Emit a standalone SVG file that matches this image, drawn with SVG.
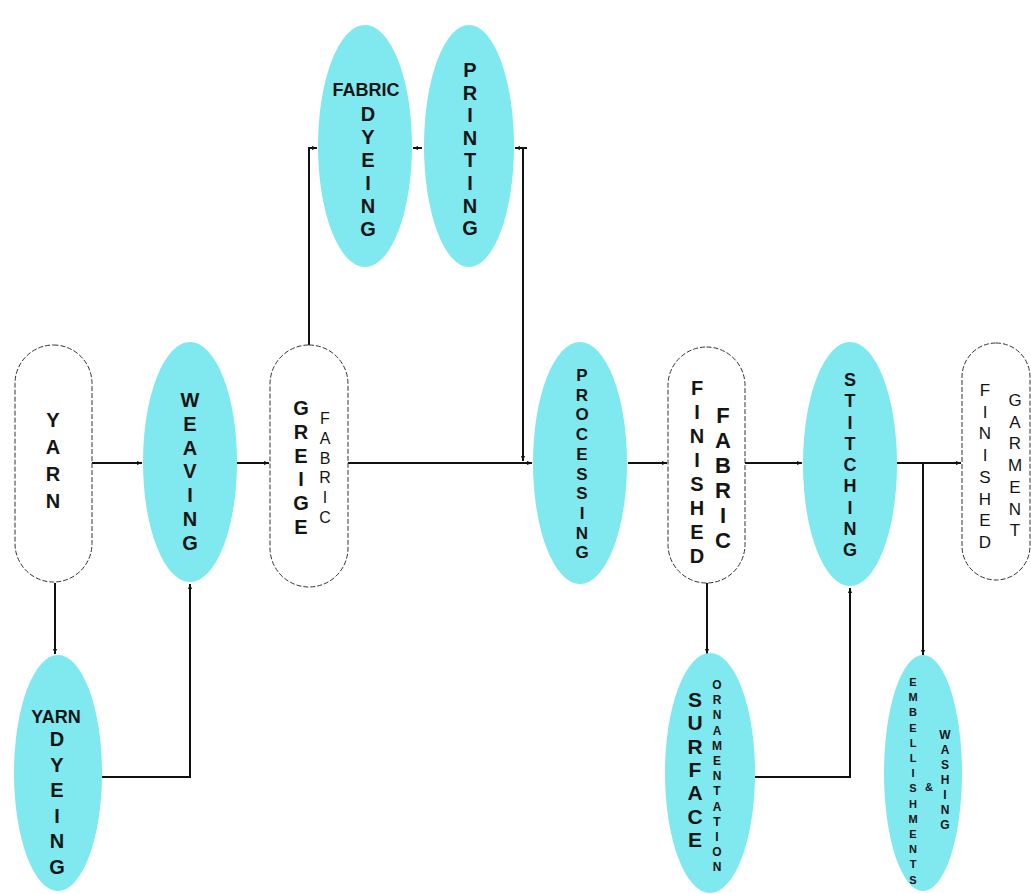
<svg xmlns="http://www.w3.org/2000/svg" width="1031" height="894" viewBox="0 0 1031 894">
  <defs>
    <marker id="arr" viewBox="0 0 10 10" refX="10" refY="5" markerWidth="5" markerHeight="5" orient="auto" markerUnits="userSpaceOnUse">
      <path d="M0,1 L10,5 L0,9 z" fill="#111"/>
    </marker>
  </defs>
  <style>
    .step { fill: #80e8ef; stroke: none; }
    .state { fill: #ffffff; stroke: #333; stroke-width: 1; stroke-dasharray: 5 2; }
    .t { font-family: "Liberation Sans", Arial, sans-serif; fill: #151515; text-anchor: middle; font-weight: bold; }
    .reg { font-weight: normal; }
    .link { fill: none; stroke: #111; stroke-width: 2; }
  </style>
  <rect width="1031" height="894" fill="#ffffff"/>

  <!-- flow lines -->
  <g id="connectors">
    <path class="link" d="M92,463 H142" marker-end="url(#arr)"/>
    <path class="link" d="M237,463 H269" marker-end="url(#arr)"/>
    <path class="link" d="M348,463 H532" marker-end="url(#arr)"/>
    <path class="link" d="M309,345 V148 H317" marker-end="url(#arr)"/>
    <path class="link" d="M422,148 H413" marker-end="url(#arr)" stroke-width="1.5"/>
    <path class="link" d="M527,148 H515" marker-end="url(#arr)"/>
    <path class="link" d="M523,148 V461" marker-end="url(#arr)"/>
    <path class="link" d="M628,463 H667" marker-end="url(#arr)"/>
    <path class="link" d="M745,463 H802" marker-end="url(#arr)"/>
    <path class="link" d="M897,463 H961" marker-end="url(#arr)"/>
    <path class="link" d="M923,463 V655" marker-end="url(#arr)"/>
    <path class="link" d="M55,583 V654" marker-end="url(#arr)"/>
    <path class="link" d="M102,777 H190 V584" marker-end="url(#arr)"/>
    <path class="link" d="M707,583 V654" marker-end="url(#arr)"/>
    <path class="link" d="M755,777 H850 V588" marker-end="url(#arr)"/>
  </g>

  <g id="yarn">
    <rect class="state" x="15" y="345" width="77" height="237" rx="38.5"/>
    <text class="t" font-size="20"><tspan x="53" y="427">Y</tspan><tspan x="53" dy="27">A</tspan><tspan x="53" dy="27">R</tspan><tspan x="53" dy="27">N</tspan></text>
  </g>

  <g id="weaving">
    <ellipse class="step" cx="190" cy="462" rx="47" ry="120"/>
    <text class="t" font-size="20"><tspan x="190" y="407">W</tspan><tspan x="190" dy="23.8">E</tspan><tspan x="190" dy="23.8">A</tspan><tspan x="190" dy="23.8">V</tspan><tspan x="190" dy="23.8">I</tspan><tspan x="190" dy="23.8">N</tspan><tspan x="190" dy="23.8">G</tspan></text>
  </g>

  <g id="greige-fabric">
    <rect class="state" x="270" y="345" width="78" height="242" rx="39"/>
    <text class="t" font-size="20"><tspan x="301" y="415">G</tspan><tspan x="301" dy="23.8">R</tspan><tspan x="301" dy="23.8">E</tspan><tspan x="301" dy="23.8">I</tspan><tspan x="301" dy="23.8">G</tspan><tspan x="301" dy="23.8">E</tspan></text>
    <text class="t reg" font-size="16"><tspan x="325" y="424">F</tspan><tspan x="325" dy="19.8">A</tspan><tspan x="325" dy="19.8">B</tspan><tspan x="325" dy="19.8">R</tspan><tspan x="325" dy="19.8">I</tspan><tspan x="325" dy="19.8">C</tspan></text>
  </g>

  <g id="fabric-dyeing">
    <ellipse class="step" cx="365" cy="146" rx="47" ry="121"/>
    <text class="t" font-size="18" x="366" y="96">FABRIC</text>
    <text class="t" font-size="20"><tspan x="368" y="121">D</tspan><tspan x="368" dy="23">Y</tspan><tspan x="368" dy="23">E</tspan><tspan x="368" dy="23">I</tspan><tspan x="368" dy="23">N</tspan><tspan x="368" dy="23">G</tspan></text>
  </g>

  <g id="printing">
    <ellipse class="step" cx="469" cy="146" rx="45" ry="121"/>
    <text class="t" font-size="20"><tspan x="470" y="77">P</tspan><tspan x="470" dy="22.6">R</tspan><tspan x="470" dy="22.6">I</tspan><tspan x="470" dy="22.6">N</tspan><tspan x="470" dy="22.6">T</tspan><tspan x="470" dy="22.6">I</tspan><tspan x="470" dy="22.6">N</tspan><tspan x="470" dy="22.6">G</tspan></text>
  </g>

  <g id="processing">
    <ellipse class="step" cx="580" cy="463" rx="47" ry="121"/>
    <text class="t" font-size="17"><tspan x="582" y="381">P</tspan><tspan x="582" dy="19.7">R</tspan><tspan x="582" dy="19.7">O</tspan><tspan x="582" dy="19.7">C</tspan><tspan x="582" dy="19.7">E</tspan><tspan x="582" dy="19.7">S</tspan><tspan x="582" dy="19.7">S</tspan><tspan x="582" dy="19.7">I</tspan><tspan x="582" dy="19.7">N</tspan><tspan x="582" dy="19.7">G</tspan></text>
  </g>

  <g id="finished-fabric">
    <rect class="state" x="668" y="347" width="77" height="236" rx="38.5"/>
    <text class="t" font-size="20"><tspan x="697" y="395">F</tspan><tspan x="697" dy="24">I</tspan><tspan x="697" dy="24">N</tspan><tspan x="697" dy="24">I</tspan><tspan x="697" dy="24">S</tspan><tspan x="697" dy="24">H</tspan><tspan x="697" dy="24">E</tspan><tspan x="697" dy="24">D</tspan></text>
    <text class="t" font-size="22"><tspan x="723" y="423">F</tspan><tspan x="723" dy="25">A</tspan><tspan x="723" dy="25">B</tspan><tspan x="723" dy="25">R</tspan><tspan x="723" dy="25">I</tspan><tspan x="723" dy="25">C</tspan></text>
  </g>

  <g id="stitching">
    <ellipse class="step" cx="850" cy="464" rx="47" ry="122"/>
    <text class="t" font-size="18"><tspan x="850" y="386">S</tspan><tspan x="850" dy="21.25">T</tspan><tspan x="850" dy="21.25">I</tspan><tspan x="850" dy="21.25">T</tspan><tspan x="850" dy="21.25">C</tspan><tspan x="850" dy="21.25">H</tspan><tspan x="850" dy="21.25">I</tspan><tspan x="850" dy="21.25">N</tspan><tspan x="850" dy="21.25">G</tspan></text>
  </g>

  <g id="finished-garment">
    <rect class="state" x="962" y="343" width="68" height="237" rx="34"/>
    <text class="t reg" font-size="17"><tspan x="985" y="396">F</tspan><tspan x="985" dy="21.7">I</tspan><tspan x="985" dy="21.7">N</tspan><tspan x="985" dy="21.7">I</tspan><tspan x="985" dy="21.7">S</tspan><tspan x="985" dy="21.7">H</tspan><tspan x="985" dy="21.7">E</tspan><tspan x="985" dy="21.7">D</tspan></text>
    <text class="t reg" font-size="17"><tspan x="1015" y="406">G</tspan><tspan x="1015" dy="21.7">A</tspan><tspan x="1015" dy="21.7">R</tspan><tspan x="1015" dy="21.7">M</tspan><tspan x="1015" dy="21.7">E</tspan><tspan x="1015" dy="21.7">N</tspan><tspan x="1015" dy="21.7">T</tspan></text>
  </g>

  <g id="yarn-dyeing">
    <ellipse class="step" cx="58" cy="773" rx="44" ry="118"/>
    <text class="t" font-size="18" x="56" y="723">YARN</text>
    <text class="t" font-size="20"><tspan x="57" y="746">D</tspan><tspan x="57" dy="25.6">Y</tspan><tspan x="57" dy="25.6">E</tspan><tspan x="57" dy="25.6">I</tspan><tspan x="57" dy="25.6">N</tspan><tspan x="57" dy="25.6">G</tspan></text>
  </g>

  <g id="surface-ornamentation">
    <ellipse class="step" cx="710" cy="773" rx="45" ry="120"/>
    <text class="t" font-size="21"><tspan x="695" y="707">S</tspan><tspan x="695" dy="23.3">U</tspan><tspan x="695" dy="23.3">R</tspan><tspan x="695" dy="23.3">F</tspan><tspan x="695" dy="23.3">A</tspan><tspan x="695" dy="23.3">C</tspan><tspan x="695" dy="23.3">E</tspan></text>
    <text class="t" font-size="12"><tspan x="717" y="689">O</tspan><tspan x="717" dy="15.2">R</tspan><tspan x="717" dy="15.2">N</tspan><tspan x="717" dy="15.2">A</tspan><tspan x="717" dy="15.2">M</tspan><tspan x="717" dy="15.2">E</tspan><tspan x="717" dy="15.2">N</tspan><tspan x="717" dy="15.2">T</tspan><tspan x="717" dy="15.2">A</tspan><tspan x="717" dy="15.2">T</tspan><tspan x="717" dy="15.2">I</tspan><tspan x="717" dy="15.2">O</tspan><tspan x="717" dy="15.2">N</tspan></text>
  </g>

  <g id="embellishments-washing">
    <ellipse class="step" cx="923" cy="773" rx="39" ry="118"/>
    <text class="t" font-size="11"><tspan x="913" y="686">E</tspan><tspan x="913" dy="15.2">M</tspan><tspan x="913" dy="15.2">B</tspan><tspan x="913" dy="15.2">E</tspan><tspan x="913" dy="15.2">L</tspan><tspan x="913" dy="15.2">L</tspan><tspan x="913" dy="15.2">I</tspan><tspan x="913" dy="15.2">S</tspan><tspan x="913" dy="15.2">H</tspan><tspan x="913" dy="15.2">M</tspan><tspan x="913" dy="15.2">E</tspan><tspan x="913" dy="15.2">N</tspan><tspan x="913" dy="15.2">T</tspan><tspan x="913" dy="15.2">S</tspan></text>
    <text class="t" font-size="11" x="929" y="791">&amp;</text>
    <text class="t" font-size="12"><tspan x="945" y="739">W</tspan><tspan x="945" dy="15">A</tspan><tspan x="945" dy="15">S</tspan><tspan x="945" dy="15">H</tspan><tspan x="945" dy="15">I</tspan><tspan x="945" dy="15">N</tspan><tspan x="945" dy="15">G</tspan></text>
  </g>
</svg>
